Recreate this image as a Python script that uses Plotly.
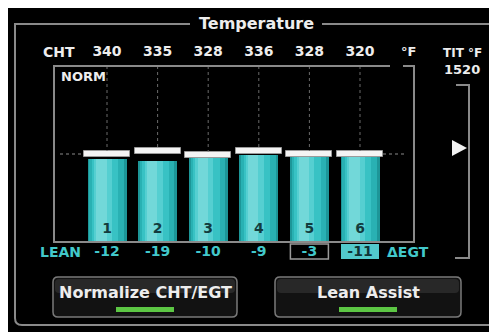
import plotly.graph_objects as go

# engine monitor values
cylinders = [1, 2, 3, 4, 5, 6]
cht_f = [340, 335, 328, 336, 328, 320]
delta_egt = [-12, -19, -10, -9, -3, -11]
egt_level = [47.2, 46.0, 47.7, 49.4, 48.3, 48.3]    # bar height, % of column
peak_level = [50.0, 51.7, 49.7, 51.5, 50.0, 50.0]   # white peak marker
norm_level = 50.0
tit_f = 1520
boxed_cyl = 5       # outlined delta value
selected_cyl = 6    # highlighted delta value

W, H = 497, 332
OX, OY = 8, 8            # page margin: screen pixel of figure's top-left corner
# pixel -> axis mapping so everything lines up with the screen layout
X0, XS = 107.0, 50.6     # cylinder 1 centre, px per cylinder
Y0, YS = 242.0, 1.76     # column base, px per %


def fx(p):
    return (p - OX) / W


def fy(p):
    return 1 - (p - OY) / H


def dx(p):
    return 1 + (p - X0) / XS


def dy(p):
    return (Y0 - p) / YS


def path(pts):
    # pts: list of (cmd, px, py)
    out = []
    for c, a, b in pts:
        out.append(f"{c} {fx(a):.5f},{fy(b):.5f}")
    return " ".join(out)


def rrect(x0, y0, x1, y1, r):
    return path([
        ("M", x0 + r, y0), ("L", x1 - r, y0), ("Q", x1, y0), ("", x1, y0 + r),
        ("L", x1, y1 - r), ("Q", x1, y1), ("", x1 - r, y1),
        ("L", x0 + r, y1), ("Q", x0, y1), ("", x0, y1 - r),
        ("L", x0, y0 + r), ("Q", x0, y0), ("", x0 + r, y0),
    ]) + " Z"


FONT = "DejaVu Sans"
WHITE = "#ededed"
CYAN = "#42c8cb"
GREY = "#8a8a8a"

fig = go.Figure()

# gradient cyan columns built from overlaid bars
bar_w = 39 / XS
layers = [
    (-0.50, 1.00, "#1d9698"),
    (-0.45, 0.88, "#29b1b3"),
    (-0.39, 0.68, "#38c2c4"),
    (-0.33, 0.46, "#55cfd1"),
    (-0.27, 0.26, "#72d8d9"),
]
for off, frac, col in layers:
    fig.add_trace(go.Bar(
        x=cylinders, y=egt_level, base=0,
        width=bar_w * frac, offset=bar_w * off,
        marker=dict(color=col, line=dict(width=0)),
        hoverinfo="skip", showlegend=False,
    ))

# peak markers
cap_h = 6 / YS
fig.add_trace(go.Bar(
    x=cylinders, y=[cap_h] * 6, base=[p - cap_h / 2 for p in peak_level],
    width=46 / XS, offset=-23 / XS,
    marker=dict(color="#f4f4f4", line=dict(color="#9a9a9a", width=1)),
    hoverinfo="skip", showlegend=False,
))

# dotted guides from column top to peak marker
gx, gy = [], []
for c, p in zip(cylinders, peak_level):
    gx += [c, c, None]
    gy += [100, p + cap_h / 2, None]
fig.add_trace(go.Scatter(
    x=gx, y=gy, mode="lines",
    line=dict(color="#6a6a6a", width=1, dash="dot"),
    hoverinfo="skip", showlegend=False,
))

# cylinder numbers inside the columns
fig.add_trace(go.Scatter(
    x=cylinders, y=[dy(229)] * 6, mode="text",
    text=[str(c) for c in cylinders],
    textfont=dict(family=FONT, size=14, color="#123c3e", weight="bold"),
    hoverinfo="skip", showlegend=False,
))

# CHT row
fig.add_trace(go.Scatter(
    x=cylinders, y=[dy(52)] * 6, mode="text",
    text=[str(v) for v in cht_f],
    textfont=dict(family=FONT, size=14, color=WHITE, weight="bold"),
    hoverinfo="skip", showlegend=False,
))

# delta EGT row
fig.add_trace(go.Scatter(
    x=cylinders, y=[dy(252)] * 6, mode="text",
    text=[str(v) for v in delta_egt],
    textfont=dict(family=FONT, size=14, weight="bold",
                  color=["#0f3436" if c == selected_cyl else CYAN for c in cylinders]),
    hoverinfo="skip", showlegend=False,
))

shapes = []
line_grey = dict(color=GREY, width=2)

# outer frame with title gap
shapes.append(dict(type="path", xref="paper", yref="paper", line=line_grey,
                   path=path([("M", 190, 24), ("L", 15, 24), ("L", 15, 318), ("Q", 15, 325), ("", 22, 325),
                              ("L", 489, 325), ("Q", 496, 325), ("", 496, 318), ("L", 496, 24), ("L", 322, 24)])))

# inner column box
shapes.append(dict(type="path", xref="paper", yref="paper", line=dict(color=GREY, width=2),
                   path=path([("M", 390, 66), ("L", 54, 66), ("L", 54, 242), ("L", 414, 242),
                              ("L", 414, 66), ("L", 403, 66)])))

# TIT bracket and pointer
shapes.append(dict(type="path", xref="paper", yref="paper", line=dict(color=GREY, width=2),
                   path=path([("M", 456, 85), ("L", 469, 85), ("L", 469, 258), ("L", 455, 258)])))
shapes.append(dict(type="path", xref="paper", yref="paper", fillcolor="#f2f2f2", line=dict(width=0),
                   path=path([("M", 452, 140), ("L", 467, 148), ("L", 452, 156)]) + " Z"))

# normalised reference level
for a, b in [(60, 82), (383, 407)]:
    shapes.append(dict(type="line", xref="x", yref="y", x0=dx(a), x1=dx(b), y0=norm_level, y1=norm_level,
                       line=dict(color="#8a8a8a", width=1, dash="dot")))

# delta EGT highlight boxes
hw = 19 / XS
shapes.append(dict(type="rect", xref="x", yref="y", x0=boxed_cyl - hw, x1=boxed_cyl + hw,
                   y0=dy(259), y1=dy(244), line=dict(color="#9a9a9a", width=1.5), layer="below"))
shapes.append(dict(type="rect", xref="x", yref="y", x0=selected_cyl - hw, x1=selected_cyl + hw,
                   y0=dy(259), y1=dy(244), fillcolor="#52c9cc", line=dict(width=0), layer="below"))

# soft keys
for x0, x1 in [(53, 237), (275, 461)]:
    shapes.append(dict(type="path", xref="paper", yref="paper", path=rrect(x0, 277, x1, 317, 5),
                       fillcolor="#121212", line=dict(color="#7a7a7a", width=1.5)))
    shapes.append(dict(type="path", xref="paper", yref="paper", path=rrect(x0 + 2, 279, x1 - 2, 293, 4),
                       fillcolor="#282828", line=dict(width=0)))
    mid = (x0 + x1) / 2
    shapes.append(dict(type="line", xref="paper", yref="paper", x0=fx(mid - 29), x1=fx(mid + 29),
                       y0=fy(309.5), y1=fy(309.5), line=dict(color="#5cc644", width=5)))


def label(text, x, y, size=14, color=WHITE, anchor="center"):
    return dict(text=text, x=fx(x), y=fy(y), xref="paper", yref="paper", showarrow=False,
                xanchor=anchor, yanchor="middle",
                font=dict(family=FONT, size=size, color=color, weight="bold"))


annotations = [
    label("Temperature", 256, 23, size=16),
    label("CHT", 59, 52),
    label("°F", 408, 52, size=13),
    label("TIT °F", 462, 53, size=12),
    label(str(tit_f), 462, 69, size=13),
    label("NORM", 59, 76, size=13, anchor="left"),
    label("LEAN", 60, 252, color=CYAN),
    label("ΔEGT", 408, 252, color=CYAN),
    label("Normalize CHT/EGT", 145, 292, size=16),
    label("Lean Assist", 368, 292, size=16),
]

fig.update_layout(
    width=W, height=H,
    margin=dict(l=0, r=0, t=0, b=0),
    paper_bgcolor="black", plot_bgcolor="rgba(0,0,0,0)",
    barmode="overlay", bargap=0,
    xaxis=dict(range=[dx(OX), dx(OX + W)], visible=False, fixedrange=True),
    yaxis=dict(range=[dy(OY + H), dy(OY)], visible=False, fixedrange=True),
    shapes=shapes, annotations=annotations,
    showlegend=False,
)

fig.write_html("out.html", config={"displayModeBar": False})
